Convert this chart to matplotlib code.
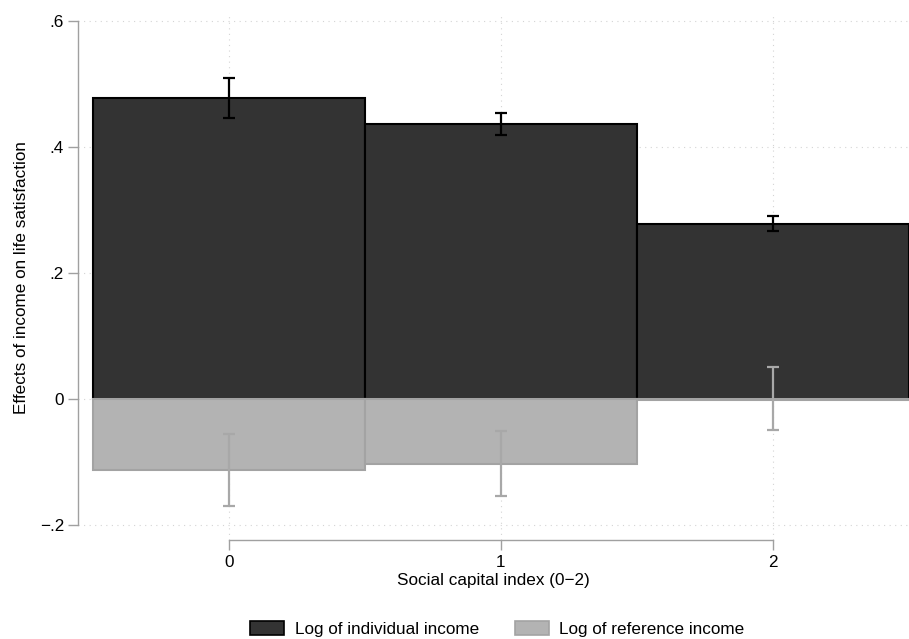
import matplotlib
matplotlib.use("Agg")
import matplotlib.pyplot as plt
from matplotlib.patches import Patch

plt.rcParams['font.family'] = ['Liberation Sans', 'DejaVu Sans']

categories = [0, 1, 2]
indiv_vals = [0.478, 0.437, 0.278]
indiv_lo = [0.446, 0.419, 0.267]
indiv_hi = [0.510, 0.454, 0.290]
ref_vals = [-0.113, -0.103, -0.001]
ref_lo = [-0.170, -0.154, -0.049]
ref_hi = [-0.056, -0.051, 0.051]
yticks = [-0.2, 0, 0.2, 0.4, 0.6]
ytick_labels = ["\u2212.2", "0", ".2", ".4", ".6"]
xtick_labels = ["0", "1", "2"]

dark = "#333333"
light = "#b3b3b3"
light_edge = "#a3a3a3"
light_err = "#a8a8a8"
fs = 12.3

fig = plt.figure(figsize=(9.09, 6.39), dpi=100)
ax = fig.add_axes([78/909, 1-540/639, 1-78/909, (540-15)/639])

ax.bar(categories, indiv_vals, width=1.0, color=dark, edgecolor="black", linewidth=1.5, zorder=2)
ax.bar(categories, ref_vals, width=1.0, color=light, edgecolor=light_edge, linewidth=1.5, zorder=3)

ax.errorbar(categories, indiv_vals,
            yerr=[[v - l for v, l in zip(indiv_vals, indiv_lo)], [h - v for v, h in zip(indiv_vals, indiv_hi)]],
            fmt="none", ecolor="black", elinewidth=1.6, capsize=4.5, capthick=1.6, zorder=4)
ax.errorbar(categories, ref_vals,
            yerr=[[v - l for v, l in zip(ref_vals, ref_lo)], [h - v for v, h in zip(ref_vals, ref_hi)]],
            fmt="none", ecolor=light_err, elinewidth=1.6, capsize=4.5, capthick=1.6, zorder=4)

ax.set_xlim(-0.555, 2.5)
ax.set_ylim(-0.224, 0.61)

ax.set_yticks(yticks)
ax.set_yticklabels(ytick_labels)
ax.set_xticks(categories)
ax.set_xticklabels(xtick_labels)

for s in ["top", "right"]:
    ax.spines[s].set_visible(False)
ax.spines["left"].set_bounds(-0.2, 0.6)
ax.spines["bottom"].set_bounds(0, 2)
for s in ["left", "bottom"]:
    ax.spines[s].set_color("#a0a0a0")
    ax.spines[s].set_linewidth(1.0)

ax.tick_params(axis="both", colors="#a0a0a0", labelcolor="black", labelsize=fs, length=7, width=1.0)
ax.tick_params(axis="y", pad=3)
ax.tick_params(axis="x", pad=4)

ax.grid(True, color="#d4d4d4", linestyle=(0, (1, 4)), linewidth=0.8, zorder=0)
ax.set_axisbelow(True)

ax.set_ylabel("Effects of income on life satisfaction", fontsize=fs, labelpad=8)
ax.set_xlabel("Social capital index (0\u22122)", fontsize=fs, labelpad=2)

handles = [Patch(facecolor=dark, edgecolor="black", linewidth=1.2, label="Log of individual income"),
           Patch(facecolor=light, edgecolor=light_edge, linewidth=1.2, label="Log of reference income")]
fig.legend(handles=handles, loc="lower center", bbox_to_anchor=(0.547, -0.021), ncol=2, frameon=False,
           fontsize=fs, handlelength=2.0, handleheight=0.9, columnspacing=2.1, handletextpad=0.6)

fig.savefig("out.png", dpi=100)
